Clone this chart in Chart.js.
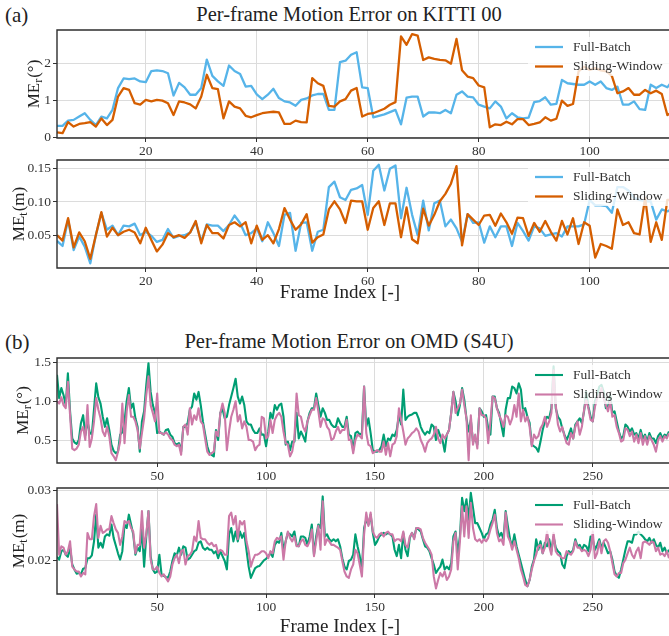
<!DOCTYPE html>
<html>
<head>
<meta charset="utf-8">
<script src="https://cdn.jsdelivr.net/npm/chart.js@4.4.1/dist/chart.umd.min.js"></script>
<style>
  html, body { margin: 0; padding: 0; background: #fff; width: 669px; height: 636px; overflow: hidden; }
  canvas { position: absolute; left: 0; }
  .txt { position: absolute; font-family: "Liberation Serif", serif; color: #222; white-space: nowrap; line-height: 1; transform: translate(-50%, -50%); }
  .tag { position: absolute; font-family: "Liberation Serif", serif; color: #222; line-height: 1; transform: translateY(-50%); }
</style>
</head>
<body>
<div class="tag" style="left:5px; top:15px; font-size:21px;">(a)</div>
<div class="txt" style="left:349px; top:14px; font-size:20.5px;">Per-frame Motion Error on KITTI 00</div>
<canvas id="kittiRot" width="669" height="142" style="top:18px"></canvas>
<canvas id="kittiTrans" width="669" height="148" style="top:148px"></canvas>
<div class="txt" style="left:340px; top:291px; font-size:19px;">Frame Index [-]</div>

<div class="tag" style="left:5px; top:342px; font-size:21px;">(b)</div>
<div class="txt" style="left:349px; top:341px; font-size:20.5px;">Per-frame Motion Error on OMD (S4U)</div>
<canvas id="omdRot" width="669" height="139" style="top:346px"></canvas>
<canvas id="omdTrans" width="669" height="146" style="top:476px"></canvas>
<div class="txt" style="left:340px; top:625px; font-size:19px;">Frame Index [-]</div>

<script>
// ---- data: per-frame motion errors (first frame index = start) ----
const seriesNames = ['Full-Batch', 'Sliding-Window'];
const kittiStart = 4;
const omdStart = 4;

const kittiXTicks = [20, 40, 60, 80, 100];
const omdXTicks = [50, 100, 150, 200, 250];
const kittiRotTicks = [0, 1, 2];
const kittiTransTicks = [0.05, 0.10, 0.15];
const omdRotTicks = [0.5, 1.0, 1.5];
const omdTransTicks = [0.02, 0.03];

// KITTI 00, rotation error (deg)
const kittiRotFull = [
  0.32, 0.32, 0.46, 0.48, 0.57, 0.66, 0.48, 0.34, 0.57, 0.52,
  0.75, 1.34, 1.60, 1.58, 1.60, 1.52, 1.50, 1.80, 1.82, 1.80,
  1.74, 1.14, 1.48, 1.36, 1.16, 1.16, 1.34, 2.11, 1.67, 1.52,
  1.40, 1.95, 1.80, 1.72, 1.38, 1.40, 1.17, 1.04, 1.16, 1.32,
  1.07, 0.98, 0.95, 0.86, 1.02, 1.06, 1.14, 1.18, 1.18, 0.75,
  0.75, 2.04, 2.08, 2.24, 2.31, 1.36, 1.34, 0.55, 0.59, 0.63,
  0.69, 0.75, 0.36, 1.08, 1.11, 1.11, 0.57, 0.68, 0.68, 0.66,
  0.75, 0.66, 1.16, 1.25, 1.11, 1.09, 0.89, 0.84, 0.79, 0.98,
  0.84, 0.52, 0.66, 0.55, 0.52, 0.54, 0.96, 0.99, 1.09, 0.89,
  0.91, 1.56, 1.47, 1.45, 1.43, 1.43, 1.52, 1.43, 1.52, 1.34,
  1.29, 1.38, 0.89, 0.89, 0.98, 0.77, 0.75, 1.43, 1.34, 1.43,
  1.36, 1.56
];
const kittiRotSliding = [
  0.14, 0.12, 0.42, 0.30, 0.37, 0.39, 0.42, 0.30, 0.52, 0.34,
  0.48, 1.11, 1.34, 1.29, 0.93, 0.89, 1.02, 0.98, 1.02, 1.00,
  0.93, 0.61, 0.98, 0.95, 0.90, 0.79, 1.11, 1.70, 1.34, 1.31,
  0.52, 0.98, 0.84, 0.79, 0.59, 0.55, 0.61, 0.66, 0.68, 0.70,
  0.68, 0.37, 0.37, 0.46, 0.42, 0.41, 1.61, 1.47, 1.40, 0.86,
  0.84, 0.98, 1.04, 1.27, 1.34, 0.57, 0.64, 0.66, 0.72, 0.78,
  0.89, 0.96, 2.74, 2.51, 2.80, 2.76, 2.10, 2.17, 2.13, 2.10,
  2.09, 2.00, 2.67, 1.82, 1.65, 1.61, 1.41, 1.36, 0.28, 0.36,
  0.34, 0.43, 0.36, 0.50, 0.50, 0.34, 0.37, 0.41, 0.55, 0.46,
  0.51, 1.00, 0.86, 0.91, 1.79, 1.92, 1.83, 1.88, 1.82, 1.79,
  1.67, 1.20, 1.25, 1.34, 1.16, 1.16, 1.29, 1.20, 1.27, 1.18,
  0.61, 0.70
];

// KITTI 00, translation error (m)
const kittiTransFull = [
  0.0426, 0.035, 0.074, 0.029, 0.049, 0.034, 0.0094, 0.051, 0.084, 0.059,
  0.065, 0.051, 0.065, 0.064, 0.068, 0.051, 0.056, 0.050, 0.041, 0.044,
  0.060, 0.047, 0.050, 0.051, 0.055, 0.070, 0.042, 0.067, 0.065, 0.065,
  0.057, 0.066, 0.080, 0.069, 0.051, 0.054, 0.061, 0.042, 0.070, 0.054,
  0.035, 0.081, 0.084, 0.028, 0.069, 0.070, 0.028, 0.056, 0.059, 0.122,
  0.130, 0.107, 0.103, 0.118, 0.120, 0.125, 0.081, 0.146, 0.155, 0.117,
  0.149, 0.154, 0.076, 0.121, 0.081, 0.051, 0.102, 0.058, 0.098, 0.102,
  0.064, 0.074, 0.061, 0.041, 0.082, 0.069, 0.070, 0.040, 0.064, 0.048,
  0.064, 0.064, 0.035, 0.069, 0.057, 0.043, 0.064, 0.061, 0.050, 0.052,
  0.054, 0.049, 0.064, 0.064, 0.064, 0.067, 0.103, 0.095, 0.095, 0.094,
  0.084, 0.122, 0.122, 0.117, 0.106, 0.103, 0.101, 0.101, 0.074, 0.089,
  0.086, 0.090
];
const kittiTransSliding = [
  0.051, 0.043, 0.076, 0.033, 0.055, 0.042, 0.016, 0.051, 0.085, 0.049,
  0.062, 0.051, 0.056, 0.059, 0.055, 0.039, 0.062, 0.044, 0.027, 0.037,
  0.054, 0.048, 0.051, 0.047, 0.055, 0.072, 0.039, 0.066, 0.054, 0.054,
  0.046, 0.066, 0.070, 0.064, 0.070, 0.039, 0.065, 0.044, 0.051, 0.039,
  0.060, 0.091, 0.074, 0.059, 0.067, 0.082, 0.040, 0.048, 0.052, 0.089,
  0.101, 0.089, 0.069, 0.102, 0.101, 0.101, 0.059, 0.091, 0.101, 0.066,
  0.098, 0.098, 0.048, 0.092, 0.045, 0.039, 0.090, 0.065, 0.081, 0.101,
  0.112, 0.127, 0.153, 0.036, 0.082, 0.074, 0.066, 0.080, 0.081, 0.065,
  0.083, 0.070, 0.053, 0.077, 0.076, 0.050, 0.069, 0.056, 0.072, 0.056,
  0.043, 0.072, 0.052, 0.076, 0.038, 0.070, 0.065, 0.018, 0.038, 0.035,
  0.031, 0.089, 0.066, 0.070, 0.054, 0.052, 0.106, 0.041, 0.070, 0.044,
  0.103, 0.103
];

// OMD (S4U), rotation error (deg)
const omdRotFull = [
  1.34, 1.04, 1.17, 1.08, 0.95, 1.36, 0.87, 0.52, 0.47, 0.45,
  0.50, 0.72, 0.82, 0.56, 0.74, 0.60, 0.57, 0.90, 1.23, 1.05,
  0.97, 0.80, 0.67, 0.78, 0.63, 0.44, 0.36, 0.33, 0.35, 0.57,
  0.60, 0.74, 1.00, 1.17, 0.91, 0.97, 0.78, 0.67, 0.35, 0.74,
  0.87, 1.21, 1.49, 1.12, 0.95, 0.85, 0.59, 0.61, 0.59, 0.57,
  0.63, 0.64, 0.57, 0.54, 0.46, 0.44, 0.46, 0.35, 0.67, 0.67,
  0.72, 0.89, 0.93, 1.10, 1.02, 1.12, 0.95, 0.74, 0.58, 0.42,
  0.33, 0.31, 0.29, 0.63, 0.50, 0.85, 0.90, 0.78, 0.80, 0.95,
  1.06, 1.17, 1.29, 1.06, 0.97, 1.06, 0.95, 0.74, 0.70, 0.70,
  0.63, 0.59, 0.59, 0.65, 0.57, 0.57, 0.42, 0.61, 0.85, 0.78,
  0.95, 0.89, 0.95, 0.97, 0.80, 0.44, 0.48, 0.37, 0.48, 0.48,
  0.85, 0.52, 0.61, 0.55, 0.48, 0.74, 0.85, 0.91, 0.91, 1.10,
  0.95, 0.80, 0.91, 0.85, 0.76, 0.76, 0.70, 0.67, 0.67, 0.78,
  0.72, 0.67, 0.67, 0.80, 0.57, 0.55, 0.37, 0.59, 0.61, 0.57,
  0.59, 1.19, 0.67, 0.78, 0.59, 0.37, 0.35, 0.35, 0.37, 0.42,
  0.57, 0.42, 0.52, 0.50, 0.57, 0.55, 0.63, 0.82, 0.70, 1.15,
  0.76, 0.80, 0.82, 0.83, 0.85, 0.85, 0.78, 0.67, 0.61, 0.57,
  0.61, 0.59, 0.70, 0.67, 0.50, 0.63, 0.55, 0.50, 0.35, 0.57,
  0.63, 0.85, 1.12, 1.00, 0.82, 0.95, 1.17, 1.02, 0.78, 0.61,
  0.76, 0.48, 0.52, 0.44, 0.91, 0.87, 0.80, 0.82, 0.65, 0.57,
  1.06, 1.06, 0.91, 0.85, 0.70, 0.55, 0.89, 1.04, 1.04, 1.19,
  1.17, 1.10, 1.23, 1.15, 0.87, 0.91, 0.80, 0.72, 0.44, 0.42,
  0.40, 0.35, 0.48, 0.63, 0.74, 0.80, 0.78, 0.91, 1.45, 0.91,
  0.80, 0.76, 0.65, 0.57, 0.50, 0.57, 0.65, 0.52, 0.70, 0.74,
  0.78, 0.72, 0.87, 1.12, 0.93, 0.80, 0.74, 1.00, 1.08, 1.19,
  1.21, 1.12, 0.91, 0.93, 1.08, 0.85, 0.87, 0.74, 0.61, 0.52,
  0.55, 0.70, 0.67, 0.61, 0.65, 0.57, 0.59, 0.52, 0.63, 0.52,
  0.57, 0.48, 0.59, 0.52, 0.52, 0.46, 0.55, 0.59, 0.52, 0.57,
  0.55, 0.61
];
const omdRotSliding = [
  1.00, 0.97, 1.05, 0.95, 0.91, 1.25, 0.82, 0.39, 0.37, 0.39,
  0.44, 0.61, 0.67, 0.50, 0.95, 0.41, 0.52, 0.74, 1.04, 0.89,
  0.78, 0.61, 0.55, 0.67, 0.55, 0.33, 0.29, 0.24, 0.35, 0.48,
  0.97, 0.46, 0.87, 1.08, 0.80, 0.80, 0.74, 0.63, 0.39, 0.59,
  0.78, 1.08, 1.32, 0.95, 0.85, 0.74, 1.10, 0.59, 0.59, 0.57,
  0.60, 0.57, 0.52, 0.50, 0.44, 0.42, 0.44, 0.31, 0.67, 0.70,
  0.57, 0.91, 0.70, 0.82, 0.76, 0.91, 0.74, 0.70, 0.52, 0.35,
  0.31, 0.33, 0.35, 0.61, 0.55, 0.85, 0.97, 0.85, 0.37, 0.61,
  0.80, 0.89, 1.00, 0.74, 0.82, 0.65, 0.74, 0.67, 0.50, 0.50,
  0.48, 0.37, 0.42, 0.44, 0.80, 0.78, 0.52, 0.55, 0.76, 0.59,
  0.76, 0.82, 0.85, 0.80, 0.61, 0.46, 0.44, 0.29, 0.35, 0.52,
  1.10, 0.82, 0.80, 0.67, 0.61, 0.74, 0.82, 0.89, 0.89, 1.04,
  0.87, 0.67, 0.78, 0.76, 0.67, 0.63, 0.50, 0.52, 0.61, 0.67,
  0.59, 0.63, 0.63, 0.76, 0.50, 0.50, 0.33, 0.50, 0.57, 0.55,
  0.52, 1.19, 0.59, 0.44, 0.42, 0.33, 0.35, 0.37, 0.35, 0.35,
  0.48, 0.31, 0.46, 0.29, 0.44, 0.46, 0.55, 0.91, 0.76, 0.61,
  0.44, 0.52, 0.55, 0.59, 0.61, 0.65, 0.61, 0.50, 0.44, 0.35,
  0.46, 0.50, 0.52, 0.57, 0.67, 0.52, 0.46, 0.57, 0.52, 0.57,
  0.63, 0.85, 1.12, 0.85, 0.91, 0.97, 1.15, 0.95, 0.78, 0.24,
  0.82, 0.44, 0.57, 0.39, 0.91, 0.82, 0.82, 0.78, 0.46, 0.74,
  1.06, 1.04, 0.91, 0.82, 0.76, 0.67, 0.82, 0.80, 0.70, 0.78,
  0.95, 0.80, 1.10, 0.74, 0.89, 0.74, 0.80, 0.67, 0.42, 0.57,
  0.52, 0.55, 0.65, 0.70, 0.80, 0.67, 0.74, 0.85, 1.40, 0.95,
  0.70, 0.61, 0.67, 0.55, 0.46, 0.44, 0.59, 0.52, 0.67, 0.74,
  0.57, 0.67, 0.89, 1.02, 0.91, 0.76, 0.74, 0.93, 1.04, 1.08,
  1.17, 1.04, 0.95, 0.87, 1.00, 0.80, 0.82, 0.67, 0.59, 0.48,
  0.50, 0.65, 0.63, 0.55, 0.61, 0.48, 0.57, 0.46, 0.59, 0.44,
  0.55, 0.44, 0.55, 0.50, 0.44, 0.35, 0.50, 0.55, 0.48, 0.55,
  0.52, 0.59
];

// OMD (S4U), translation error (m)
const omdTransFull = [
  0.0205, 0.0201, 0.0213, 0.0215, 0.0208, 0.0205, 0.0218, 0.0194, 0.0187, 0.0181,
  0.0182, 0.0180, 0.0188, 0.0189, 0.0203, 0.0203, 0.0207, 0.0227, 0.0265, 0.0218,
  0.0225, 0.0218, 0.0234, 0.0237, 0.0235, 0.0251, 0.0232, 0.0221, 0.0210, 0.0201,
  0.0213, 0.0251, 0.0246, 0.0265, 0.0251, 0.0237, 0.0208, 0.0218, 0.0213, 0.0244,
  0.0191, 0.0234, 0.0270, 0.0206, 0.0187, 0.0182, 0.0184, 0.0208, 0.0180, 0.0178,
  0.0176, 0.0175, 0.0184, 0.0199, 0.0210, 0.0207, 0.0218, 0.0208, 0.0220, 0.0218,
  0.0201, 0.0203, 0.0208, 0.0213, 0.0215, 0.0225, 0.0227, 0.0218, 0.0215, 0.0218,
  0.0215, 0.0215, 0.0210, 0.0213, 0.0203, 0.0213, 0.0206, 0.0199, 0.0187, 0.0237,
  0.0246, 0.0227, 0.0241, 0.0227, 0.0241, 0.0232, 0.0239, 0.0215, 0.0191, 0.0175,
  0.0182, 0.0189, 0.0191, 0.0192, 0.0196, 0.0200, 0.0202, 0.0206, 0.0210, 0.0205,
  0.0222, 0.0227, 0.0225, 0.0239, 0.0215, 0.0227, 0.0239, 0.0237, 0.0234, 0.0241,
  0.0222, 0.0220, 0.0234, 0.0234, 0.0232, 0.0222, 0.0234, 0.0251, 0.0208, 0.0234,
  0.0251, 0.0246, 0.0291, 0.0234, 0.0237, 0.0230, 0.0227, 0.0230, 0.0227, 0.0230,
  0.0220, 0.0203, 0.0191, 0.0187, 0.0199, 0.0201, 0.0208, 0.0237, 0.0220, 0.0206,
  0.0187, 0.0246, 0.0258, 0.0251, 0.0265, 0.0239, 0.0222, 0.0227, 0.0234, 0.0237,
  0.0239, 0.0237, 0.0239, 0.0237, 0.0234, 0.0215, 0.0206, 0.0222, 0.0203, 0.0239,
  0.0215, 0.0206, 0.0232, 0.0239, 0.0232, 0.0246, 0.0244, 0.0241, 0.0230, 0.0220,
  0.0218, 0.0213, 0.0203, 0.0194, 0.0182, 0.0187, 0.0191, 0.0201, 0.0187, 0.0191,
  0.0187, 0.0196, 0.0234, 0.0241, 0.0210, 0.0234, 0.0289, 0.0270, 0.0287, 0.0258,
  0.0296, 0.0275, 0.0253, 0.0253, 0.0246, 0.0239, 0.0230, 0.0237, 0.0239, 0.0251,
  0.0258, 0.0272, 0.0246, 0.0234, 0.0239, 0.0230, 0.0270, 0.0249, 0.0230, 0.0220,
  0.0237, 0.0220, 0.0208, 0.0196, 0.0184, 0.0172, 0.0163, 0.0172, 0.0191, 0.0201,
  0.0230, 0.0215, 0.0227, 0.0210, 0.0225, 0.0220, 0.0230, 0.0213, 0.0234, 0.0218,
  0.0213, 0.0210, 0.0194, 0.0189, 0.0206, 0.0213, 0.0210, 0.0215, 0.0230, 0.0220,
  0.0222, 0.0215, 0.0222, 0.0220, 0.0213, 0.0234, 0.0230, 0.0215, 0.0222, 0.0230,
  0.0218, 0.0225, 0.0218, 0.0210, 0.0213, 0.0201, 0.0184, 0.0178, 0.0175, 0.0187,
  0.0201, 0.0215, 0.0227, 0.0227, 0.0225, 0.0237, 0.0237, 0.0241, 0.0237, 0.0234,
  0.0230, 0.0227, 0.0232, 0.0225, 0.0230, 0.0222, 0.0218, 0.0225, 0.0213, 0.0218,
  0.0210, 0.0215
];
const omdTransSliding = [
  0.0280, 0.0208, 0.0220, 0.0218, 0.0208, 0.0213, 0.0227, 0.0191, 0.0187, 0.0184,
  0.0184, 0.0177, 0.0182, 0.0180, 0.0239, 0.0230, 0.0230, 0.0263, 0.0280, 0.0232,
  0.0249, 0.0239, 0.0241, 0.0244, 0.0244, 0.0263, 0.0253, 0.0244, 0.0239, 0.0222,
  0.0234, 0.0256, 0.0253, 0.0256, 0.0246, 0.0241, 0.0210, 0.0222, 0.0222, 0.0270,
  0.0218, 0.0237, 0.0270, 0.0201, 0.0187, 0.0187, 0.0191, 0.0182, 0.0177, 0.0180,
  0.0175, 0.0170, 0.0177, 0.0194, 0.0203, 0.0208, 0.0196, 0.0213, 0.0215, 0.0194,
  0.0206, 0.0208, 0.0213, 0.0234, 0.0227, 0.0256, 0.0232, 0.0230, 0.0230, 0.0225,
  0.0222, 0.0225, 0.0220, 0.0222, 0.0210, 0.0215, 0.0213, 0.0208, 0.0208, 0.0263,
  0.0268, 0.0251, 0.0263, 0.0230, 0.0256, 0.0251, 0.0256, 0.0227, 0.0213, 0.0191,
  0.0201, 0.0208, 0.0208, 0.0210, 0.0213, 0.0213, 0.0210, 0.0203, 0.0213, 0.0210,
  0.0227, 0.0232, 0.0230, 0.0234, 0.0201, 0.0227, 0.0241, 0.0232, 0.0227, 0.0234,
  0.0220, 0.0220, 0.0227, 0.0230, 0.0222, 0.0220, 0.0227, 0.0244, 0.0206, 0.0227,
  0.0249, 0.0215, 0.0284, 0.0222, 0.0230, 0.0227, 0.0222, 0.0222, 0.0220, 0.0218,
  0.0215, 0.0199, 0.0184, 0.0177, 0.0175, 0.0187, 0.0194, 0.0215, 0.0210, 0.0194,
  0.0177, 0.0237, 0.0268, 0.0249, 0.0268, 0.0241, 0.0234, 0.0232, 0.0237, 0.0239,
  0.0234, 0.0239, 0.0241, 0.0237, 0.0237, 0.0227, 0.0230, 0.0230, 0.0227, 0.0241,
  0.0222, 0.0218, 0.0234, 0.0239, 0.0230, 0.0246, 0.0246, 0.0244, 0.0232, 0.0225,
  0.0220, 0.0215, 0.0208, 0.0177, 0.0160, 0.0172, 0.0182, 0.0177, 0.0184, 0.0172,
  0.0177, 0.0187, 0.0227, 0.0239, 0.0187, 0.0227, 0.0277, 0.0234, 0.0277, 0.0232,
  0.0282, 0.0246, 0.0230, 0.0227, 0.0230, 0.0225, 0.0230, 0.0227, 0.0232, 0.0244,
  0.0253, 0.0265, 0.0239, 0.0227, 0.0230, 0.0222, 0.0268, 0.0234, 0.0227, 0.0215,
  0.0227, 0.0215, 0.0203, 0.0187, 0.0177, 0.0165, 0.0163, 0.0172, 0.0187, 0.0199,
  0.0208, 0.0220, 0.0222, 0.0210, 0.0218, 0.0241, 0.0220, 0.0208, 0.0239, 0.0213,
  0.0208, 0.0206, 0.0203, 0.0203, 0.0213, 0.0210, 0.0208, 0.0213, 0.0227, 0.0218,
  0.0218, 0.0213, 0.0215, 0.0213, 0.0206, 0.0215, 0.0241, 0.0203, 0.0210, 0.0227,
  0.0210, 0.0227, 0.0230, 0.0225, 0.0213, 0.0196, 0.0180, 0.0177, 0.0182, 0.0182,
  0.0196, 0.0201, 0.0210, 0.0218, 0.0208, 0.0203, 0.0213, 0.0218, 0.0203, 0.0225,
  0.0227, 0.0225, 0.0222, 0.0227, 0.0225, 0.0213, 0.0218, 0.0208, 0.0210, 0.0206,
  0.0213, 0.0203
];

// ---- drawing ----
const SERIF = '"Liberation Serif", "Times New Roman", serif';
const AXIS_LEFT = 57;

function toPoints(start, values) {
  return values.map((v, i) => ({ x: start + i, y: v }));
}

// spines (left, top, bottom) + in-axes legend
const framePlugin = {
  id: 'frameAndLegend',
  afterDatasetsDraw(chart, args, opts) {
    const { ctx, chartArea: a } = chart;
    ctx.save();
    ctx.strokeStyle = '#2e2e2e';
    ctx.lineWidth = 1.4;
    ctx.beginPath();
    ctx.moveTo(a.right + 2, a.top);
    ctx.lineTo(a.left, a.top);
    ctx.lineTo(a.left, a.bottom);
    ctx.lineTo(a.right + 2, a.bottom);
    ctx.stroke();

    // legend box
    const bx = 528, by = a.top + 7;
    ctx.fillStyle = 'rgba(255,255,255,0.8)';
    ctx.fillRect(bx, by, a.right - bx, 39);
    chart.data.datasets.forEach((ds, i) => {
      const y = a.top + 17 + i * 19.5;
      ctx.strokeStyle = ds.borderColor;
      ctx.lineWidth = ds.borderWidth;
      ctx.beginPath();
      ctx.moveTo(535, y);
      ctx.lineTo(563, y);
      ctx.stroke();
      ctx.fillStyle = '#333';
      ctx.font = '13.5px ' + SERIF;
      ctx.textBaseline = 'middle';
      ctx.textAlign = 'left';
      ctx.fillText(ds.label, 573, y);
    });
    ctx.restore();
  }
};

// rotated y title with a subscript: ME_r(°), ME_t(m)
const yTitlePlugin = {
  id: 'yTitle',
  afterDraw(chart, args, opts) {
    const { ctx, chartArea: a } = chart;
    const big = '17px ' + SERIF, small = '12px ' + SERIF;
    ctx.save();
    ctx.font = big; const w1 = ctx.measureText(opts.main).width;
    const w3 = ctx.measureText(opts.unit).width;
    ctx.font = small; const w2 = ctx.measureText(opts.sub).width;
    const total = w1 + w2 + w3 + 1;
    ctx.translate(opts.x, (a.top + a.bottom) / 2);
    ctx.rotate(-Math.PI / 2);
    ctx.fillStyle = '#222';
    ctx.textBaseline = 'alphabetic';
    ctx.textAlign = 'left';
    let x = -total / 2;
    ctx.font = big; ctx.fillText(opts.main, x, 6); x += w1;
    ctx.font = small; ctx.fillText(opts.sub, x, 9); x += w2 + 1;
    ctx.font = big; ctx.fillText(opts.unit, x, 6);
    ctx.restore();
  }
};

function makePanel(id, cfg) {
  const canvas = document.getElementById(id);
  const plotTop = 12;
  const xAxisH = canvas.height - plotTop - cfg.plotH;
  return new Chart(canvas, {
    type: 'line',
    data: {
      datasets: [
        { label: seriesNames[0], data: toPoints(cfg.start, cfg.full), borderColor: cfg.colors[0],
          borderWidth: cfg.lw, pointRadius: 0, tension: 0, order: 1, borderJoinStyle: 'round' },
        { label: seriesNames[1], data: toPoints(cfg.start, cfg.sliding), borderColor: cfg.colors[1],
          borderWidth: cfg.lw, pointRadius: 0, tension: 0, order: 0, borderJoinStyle: 'round' }
      ]
    },
    options: {
      responsive: false,
      animation: false,
      devicePixelRatio: 1,
      layout: { padding: { top: plotTop, left: 0, right: 0, bottom: 0 } },
      plugins: {
        legend: { display: false },
        tooltip: { enabled: false },
        yTitle: { x: cfg.titleX, main: 'ME', sub: cfg.sub, unit: cfg.unit }
      },
      scales: {
        x: {
          type: 'linear',
          min: cfg.xMin, max: cfg.xMax,
          afterBuildTicks: s => { s.ticks = cfg.xTicks.map(v => ({ value: v })); },
          afterFit: s => { s.height = xAxisH; },
          border: { display: false },
          grid: { color: '#dcdcdc', lineWidth: 1, drawTicks: true, tickLength: 4, tickColor: '#333' },
          ticks: { font: { family: SERIF, size: 13.5 }, color: '#333', padding: 1,
                   maxRotation: 0, autoSkip: false, callback: v => String(v) }
        },
        y: {
          min: cfg.yMin, max: cfg.yMax,
          afterBuildTicks: s => { s.ticks = cfg.yTicks.map(v => ({ value: v })); },
          afterFit: s => { s.width = AXIS_LEFT; },
          border: { display: false },
          grid: { color: '#dcdcdc', lineWidth: 1, drawTicks: true, tickLength: 4, tickColor: '#333' },
          ticks: { font: { family: SERIF, size: 13.5 }, color: '#333', padding: 2,
                   autoSkip: false, callback: v => cfg.yDec === 0 ? String(v) : v.toFixed(cfg.yDec) }
        }
      }
    },
    plugins: [framePlugin, yTitlePlugin]
  });
}

const kittiColors = ['#56B4E9', '#D55E00'];
const omdColors = ['#009E73', '#CC79A7'];

makePanel('kittiRot', {
  start: kittiStart, full: kittiRotFull, sliding: kittiRotSliding, colors: kittiColors, lw: 2.3,
  plotH: 108, xMin: 4, xMax: 114.3, xTicks: kittiXTicks,
  yMin: -0.01, yMax: 2.91, yTicks: kittiRotTicks, yDec: 0,
  titleX: 33, sub: 'r', unit: '(°)'
});
makePanel('kittiTrans', {
  start: kittiStart, full: kittiTransFull, sliding: kittiTransSliding, colors: kittiColors, lw: 2.3,
  plotH: 108, xMin: 4, xMax: 114.3, xTicks: kittiXTicks,
  yMin: 0.0025, yMax: 0.162, yTicks: kittiTransTicks, yDec: 2,
  titleX: 17.5, sub: 't', unit: '(m)'
});
makePanel('omdRot', {
  start: omdStart, full: omdRotFull, sliding: omdRotSliding, colors: omdColors, lw: 2.1,
  plotH: 105, xMin: 4, xMax: 285, xTicks: omdXTicks,
  yMin: 0.204, yMax: 1.557, yTicks: omdRotTicks, yDec: 1,
  titleX: 22, sub: 'r', unit: '(°)'
});
makePanel('omdTrans', {
  start: omdStart, full: omdTransFull, sliding: omdTransSliding, colors: omdColors, lw: 2.1,
  plotH: 106, xMin: 4, xMax: 285, xTicks: omdXTicks,
  yMin: 0.0152, yMax: 0.0303, yTicks: omdTransTicks, yDec: 2,
  titleX: 18, sub: 't', unit: '(m)'
});
</script>
</body>
</html>
